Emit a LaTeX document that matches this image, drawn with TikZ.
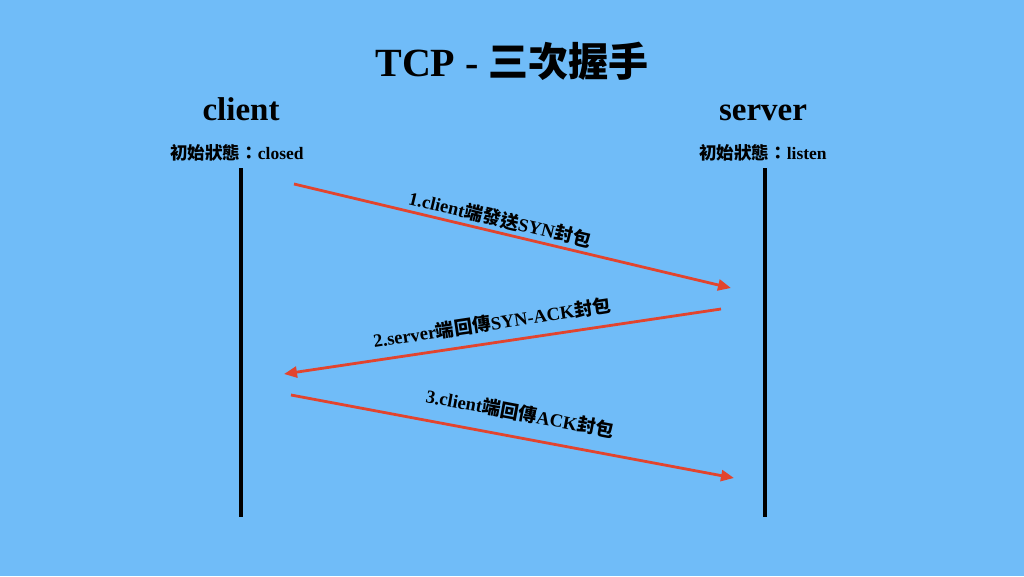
\documentclass[tikz,border=0pt]{standalone}
\usepackage{fontspec}
\setmainfont{Liberation Serif}
\newfontfamily\cjk{Noto Sans CJK TC}
\usetikzlibrary{arrows.meta}
\definecolor{bgblue}{RGB}{112,188,248}
\definecolor{msgred}{RGB}{226,68,46}
\newcommand{\zh}[1]{{\cjk #1}}
\begin{document}
\begin{tikzpicture}[x=1pt,y=-1pt,
  lifeline/.style={line width=3.5pt,black},
  msg/.style={line width=2.8pt,msgred,-{Triangle[length=13pt,width=11pt]}},
  lbl/.style={font=\bfseries\fontsize{18.5}{22}\selectfont,inner sep=0pt},
  actor/.style={font=\bfseries\fontsize{33}{38}\selectfont,inner sep=0pt,anchor=base},
  state/.style={font=\bfseries\fontsize{17.5}{20}\selectfont,inner sep=0pt,anchor=base}]
\fill[bgblue] (0,0) rectangle (1024,576);
\useasboundingbox (0,0) rectangle (1024,576);
\node[font=\bfseries\fontsize{40}{46}\selectfont,inner sep=0pt,anchor=base] (title) at (512,76) {TCP - \zh{三次握手}};
\node[actor] (client) at (241,120) {client};
\node[actor] (server) at (763,120) {server};
\node[state] (cstate) at (237,159) {\zh{初始狀態：}closed};
\node[state] (sstate) at (763,159) {\zh{初始狀態：}listen};
\coordinate (ctop) at (241,168);
\coordinate (cbot) at (241,517);
\coordinate (stop) at (765,168);
\coordinate (sbot) at (765,517);
\draw[lifeline] (ctop) -- (cbot);
\draw[lifeline] (stop) -- (sbot);
\coordinate (m1s) at (294,184);
\coordinate (m1e) at (731,288);
\coordinate (m2s) at (721,309);
\coordinate (m2e) at (284,374);
\coordinate (m3s) at (291,395);
\coordinate (m3e) at (734,478);
\draw[msg] (m1s) -- (m1e);
\draw[msg] (m2s) -- (m2e);
\draw[msg] (m3s) -- (m3e);
\node[lbl,rotate=-13.4] (l1) at (500,219) {1.client\zh{端發送}SYN\zh{封包}};
\node[lbl,rotate=8.5] (l2) at (492,323) {2.server\zh{端回傳}SYN-ACK\zh{封包}};
\node[lbl,rotate=-10.6] (l3) at (520,413) {3.client\zh{端回傳}ACK\zh{封包}};
\end{tikzpicture}
\end{document}
